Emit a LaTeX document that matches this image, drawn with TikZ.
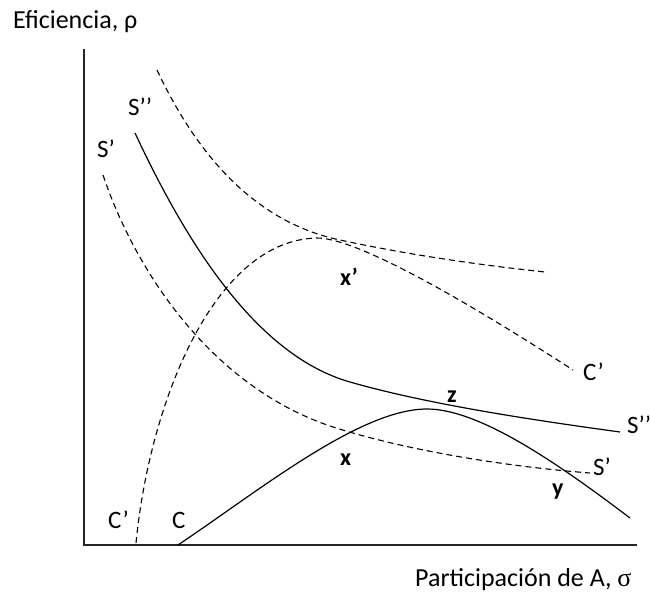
\documentclass[tikz,border=0pt]{standalone}
\usepackage{fontspec}
\setmainfont{Carlito}
\newfontfamily\symf{Liberation Serif}
\begin{document}
\begin{tikzpicture}[x=1pt,y=-1pt,
  axislbl/.style={inner sep=0pt,anchor=base west,font=\fontsize{26}{30}\selectfont},
  curvelbl/.style={inner sep=0pt,anchor=base west,font=\fontsize{25}{29}\selectfont},
  ptlbl/.style={inner sep=0pt,anchor=base west,font=\fontsize{24}{28}\selectfont\bfseries},
  axisline/.style={line width=1.5pt,black!85},
  solidcurve/.style={line width=1.2pt},
  dashcurve/.style={line width=1.1pt,dash pattern=on 6pt off 4pt}]
\useasboundingbox (0,0) rectangle (650,597);
% axes
\coordinate (top) at (84,49);
\coordinate (origin) at (84,545);
\coordinate (right) at (637,545);
\draw[axisline] (top) -- (origin) -- (right);
% axis labels
\node[axislbl] (ylab) at (13,28) {Eficiencia, ρ};
\node[axislbl] (xlab) at (415,586) {Participación de A, {\symf σ}};
% S'' solid
\draw[solidcurve] (135,133) .. controls (185,240) and (255,355) .. (350,382)
  .. controls (430,405) and (540,421) .. (620,432);
% upper dashed isoquant
\draw[dashcurve] (157,70) .. controls (190,140) and (245,220) .. (340,240)
  .. controls (400,253) and (470,264) .. (545,272);
% C' arch dashed
\draw[dashcurve] (136,543) .. controls (150,400) and (215,240) .. (317,238)
  .. controls (360,238) and (480,310) .. (573,370);
% S' dashed
\draw[dashcurve] (103,175) .. controls (135,270) and (210,385) .. (330,426)
  .. controls (400,449) and (500,466) .. (590,473);
% C solid
\draw[solidcurve] (178,545) .. controls (260,490) and (360,409) .. (427,409)
  .. controls (480,409) and (560,465) .. (630,518);
% curve labels
\node[curvelbl] (spp1) at (128,115) {S’’};
\node[curvelbl] (sp1) at (97,157) {S’};
\node[curvelbl] (cp1) at (108,528) {C’};
\node[curvelbl] (c1) at (172,528) {C};
\node[curvelbl] (cp2) at (583,380) {C’};
\node[curvelbl] (spp2) at (627,433) {S’’};
\node[curvelbl] (sp2) at (593,475) {S’};
% point labels
\node[ptlbl] (xp) at (340,285) {x\symbol{39}};
\node[ptlbl] (z) at (447,402) {z};
\node[ptlbl] (x) at (340,465) {x};
\node[ptlbl] (y) at (552,495) {y};
\end{tikzpicture}
\end{document}
